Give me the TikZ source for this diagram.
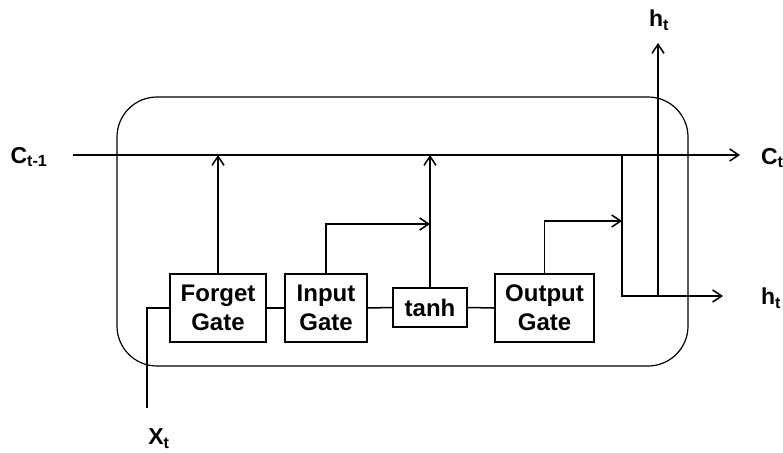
\documentclass[tikz,border=0pt]{standalone}
\usepackage{fontspec}
\setmainfont{Liberation Sans}
\usetikzlibrary{arrows.meta}

\begin{document}
\begin{tikzpicture}[x=1pt, y=-1pt, line width=1.5pt,
    arr/.style = {-{Straight Barb[length=9pt, width=12pt]}},
    gate/.style = {draw, align=center, inner sep=0pt,
      font=\fontsize{24}{29}\selectfont\bfseries},
    lbl/.style = {font=\fontsize{23}{26}\selectfont\bfseries}]
    \useasboundingbox (0,0) rectangle (783,452);

    % the cell
    \draw[line width=1.2pt, rounded corners=40pt] (117,97) rectangle (688,366);

    % gates
    \node[gate, minimum width=96pt, minimum height=68pt] (forget) at (218,308) {Forget\\Gate};
    \node[gate, minimum width=82pt, minimum height=68pt] (input) at (326,308) {Input\\Gate};
    \node[gate, minimum width=74pt, minimum height=39pt] (tanh) at (430,307.5) {tanh};
    \node[gate, minimum width=99pt, minimum height=68pt] (output) at (544.5,308) {Output\\Gate};

    \draw (forget.east) -- (input.west);
    \draw (input.east) -- (tanh.west);
    \draw (tanh.east) -- (output.west);

    % cell state line
    \coordinate (cin) at (73,155);
    \coordinate (cout) at (740,155);
    \draw[arr] (cin) -- (cout);
    \node[lbl] (cprev) at (29,157) {C\textsubscript{t-1}};
    \node[lbl, anchor=west] (cnext) at (757,158) {C\textsubscript{t}};

    % input x
    \coordinate (xin) at (147,408);
    \draw (xin) |- (forget.west);
    \node[lbl] (xlabel) at (159,439) {X\textsubscript{t}};

    % gates to the cell state
    \draw[arr] (forget.north) -- (forget.north |- cin);
    \coordinate (ijoin) at (430,224);
    \draw[arr] (input.north) |- (ijoin);
    \draw[arr] (tanh.north) -- (tanh.north |- cin);

    % output
    \coordinate (ojoin) at (622,221);
    \draw[arr] (output.north) |- (ojoin);
    \coordinate (split) at (622,155);
    \coordinate (hout) at (723,296);
    \draw[arr] (split) |- (hout);
    \node[lbl, anchor=west] (hright) at (757,298) {h\textsubscript{t}};
    \coordinate (hup) at (658,43);
    \draw[arr] (hup |- hout) -- (hup);
    \node[lbl] (htop) at (659,20) {h\textsubscript{t}};
\end{tikzpicture}
\end{document}
